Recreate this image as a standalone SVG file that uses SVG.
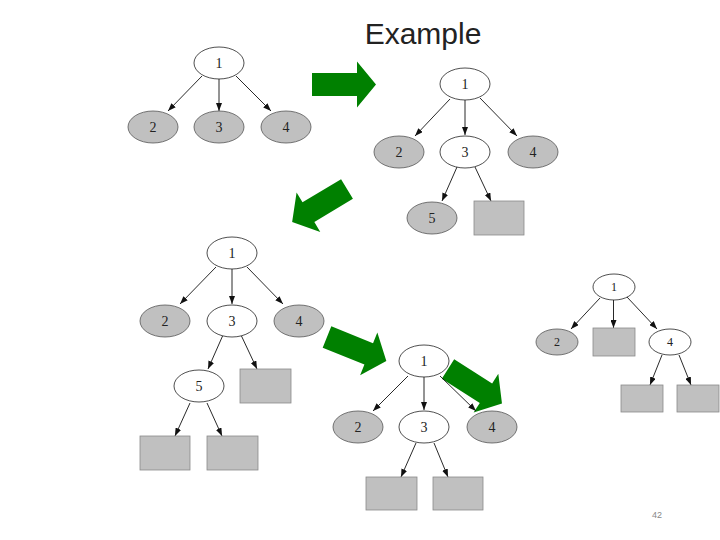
<svg xmlns="http://www.w3.org/2000/svg" width="720" height="540" viewBox="0 0 720 540">
<style>
.g{fill:#c0c0c0;stroke:#555;stroke-width:0.8}
.w{fill:#fff;stroke:#222;stroke-width:0.8}
.r{fill:#c0c0c0;stroke:#8a8a8a;stroke-width:0.8}
.t{font-family:"Liberation Serif",serif;font-size:14px;fill:#222;text-anchor:middle}
.ts{font-family:"Liberation Serif",serif;font-size:12px;fill:#222;text-anchor:middle}
.e line{stroke:#111;stroke-width:0.9;marker-end:url(#ah)}
.green{fill:#008000}
</style>
<defs>
<marker id="ah" markerUnits="userSpaceOnUse" markerWidth="8" markerHeight="6" refX="8" refY="3" orient="auto">
<path d="M0,0 L8,3 L0,6 Z" fill="#111"/>
</marker>
<path id="garrow" d="M0,-11.5 H45 V-23 L64,0 L45,23 V11.5 H0 Z"/>
</defs>
<rect width="720" height="540" fill="#fff"/>
<text x="423" y="44" font-family="Liberation Sans, sans-serif" font-size="30" fill="#222" text-anchor="middle">Example</text>
<g id="green-arrows" class="green">
<use href="#garrow" transform="translate(312,84.5)"/>
<use href="#garrow" transform="translate(347,189) rotate(149)"/>
<use href="#garrow" transform="translate(327,337) rotate(22)"/>
<use href="#garrow" transform="translate(448,369) rotate(32.5)"/>
</g>
<g id="connectors" class="e">
<line x1="202" y1="76" x2="168" y2="111"/>
<line x1="219" y1="79" x2="219" y2="111"/>
<line x1="236" y1="76" x2="271" y2="111"/>
<line x1="450" y1="99" x2="415" y2="136"/>
<line x1="465" y1="100" x2="465" y2="135"/>
<line x1="480" y1="98" x2="517" y2="136"/>
<line x1="457" y1="167" x2="442" y2="201"/>
<line x1="475" y1="167" x2="491" y2="201"/>
<line x1="216" y1="267" x2="180" y2="304"/>
<line x1="232" y1="269" x2="232" y2="304"/>
<line x1="247" y1="267" x2="283" y2="304"/>
<line x1="223" y1="335" x2="208" y2="369"/>
<line x1="241" y1="335" x2="257" y2="369"/>
<line x1="190" y1="403" x2="175" y2="436"/>
<line x1="207" y1="403" x2="222" y2="436"/>
<line x1="408" y1="376" x2="373" y2="411"/>
<line x1="424" y1="377" x2="424" y2="410"/>
<line x1="440" y1="376" x2="476" y2="411"/>
<line x1="416" y1="443" x2="401" y2="477"/>
<line x1="434" y1="443" x2="448" y2="477"/>
<line x1="600" y1="298" x2="571" y2="329"/>
<line x1="613.5" y1="300" x2="613.5" y2="328"/>
<line x1="627" y1="297" x2="657" y2="329"/>
<line x1="662" y1="355" x2="650" y2="385"/>
<line x1="679" y1="355" x2="691" y2="385"/>
</g>
<g id="tree1">
<g id="t1n1"><ellipse class="w" cx="219" cy="63" rx="25" ry="16"/><text class="t" x="219" y="68">1</text></g>
<g id="t1n2"><ellipse class="g" cx="153" cy="127" rx="25" ry="16"/><text class="t" x="153" y="132">2</text></g>
<g id="t1n3"><ellipse class="g" cx="219" cy="127" rx="25" ry="16"/><text class="t" x="219" y="132">3</text></g>
<g id="t1n4"><ellipse class="g" cx="286" cy="127" rx="25" ry="16"/><text class="t" x="286" y="132">4</text></g>
</g>
<g id="tree2">
<g id="t2n1"><ellipse class="w" cx="465" cy="84" rx="25" ry="16"/><text class="t" x="465" y="89">1</text></g>
<g id="t2n2"><ellipse class="g" cx="399" cy="152" rx="25" ry="16"/><text class="t" x="399" y="157">2</text></g>
<g id="t2n3"><ellipse class="w" cx="465" cy="152" rx="25" ry="16"/><text class="t" x="465" y="157">3</text></g>
<g id="t2n4"><ellipse class="g" cx="533" cy="152" rx="25" ry="16"/><text class="t" x="533" y="157">4</text></g>
<g id="t2n5"><ellipse class="g" cx="432" cy="218" rx="25" ry="16"/><text class="t" x="432" y="223">5</text></g>
<g id="t2r1"><rect class="r" x="474" y="201" width="50" height="34"/></g>
</g>
<g id="tree3">
<g id="t3n1"><ellipse class="w" cx="232" cy="253" rx="25" ry="16"/><text class="t" x="232" y="258">1</text></g>
<g id="t3n2"><ellipse class="g" cx="165" cy="321" rx="25" ry="16"/><text class="t" x="165" y="326">2</text></g>
<g id="t3n3"><ellipse class="w" cx="232" cy="321" rx="25" ry="16"/><text class="t" x="232" y="326">3</text></g>
<g id="t3n4"><ellipse class="g" cx="299" cy="321" rx="25" ry="16"/><text class="t" x="299" y="326">4</text></g>
<g id="t3n5"><ellipse class="w" cx="199" cy="386" rx="25" ry="16"/><text class="t" x="199" y="391">5</text></g>
<g id="t3r1"><rect class="r" x="240" y="369" width="51" height="34"/></g>
<g id="t3r2"><rect class="r" x="140" y="436" width="50" height="34"/></g>
<g id="t3r3"><rect class="r" x="207" y="436" width="51" height="34"/></g>
</g>
<g id="tree4">
<g id="t4n1"><ellipse class="w" cx="424" cy="361" rx="25" ry="16"/><text class="t" x="424" y="366">1</text></g>
<g id="t4n2"><ellipse class="g" cx="358" cy="427" rx="25" ry="16"/><text class="t" x="358" y="432">2</text></g>
<g id="t4n3"><ellipse class="w" cx="424" cy="427" rx="25" ry="16"/><text class="t" x="424" y="432">3</text></g>
<g id="t4n4"><ellipse class="g" cx="492" cy="427" rx="25" ry="16"/><text class="t" x="492" y="432">4</text></g>
<g id="t4r1"><rect class="r" x="366" y="477" width="51" height="33"/></g>
<g id="t4r2"><rect class="r" x="433" y="477" width="50" height="33"/></g>
</g>
<g id="tree5">
<g id="t5n1"><ellipse class="w" cx="614" cy="287" rx="21" ry="13"/><text class="ts" x="614" y="291">1</text></g>
<g id="t5n2"><ellipse class="g" cx="557" cy="342" rx="21" ry="13"/><text class="ts" x="557" y="346">2</text></g>
<g id="t5r1"><rect class="r" x="593" y="328" width="42" height="28"/></g>
<g id="t5n4"><ellipse class="w" cx="670" cy="342" rx="21" ry="13"/><text class="ts" x="670" y="346">4</text></g>
<g id="t5r2"><rect class="r" x="621" y="385" width="42" height="27"/></g>
<g id="t5r3"><rect class="r" x="677" y="385" width="42" height="27"/></g>
</g>
<text x="657" y="518" font-family="Liberation Sans, sans-serif" font-size="9" fill="#888" text-anchor="middle">42</text>
</svg>
